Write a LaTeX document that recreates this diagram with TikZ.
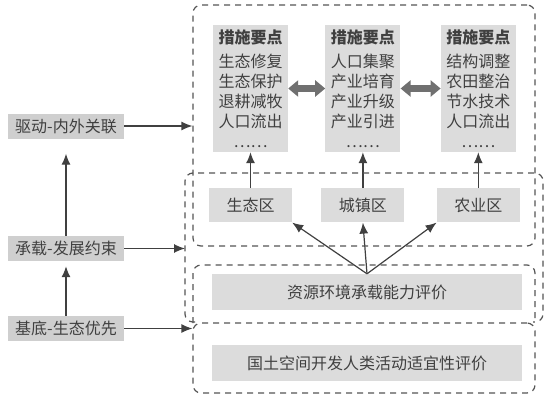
\documentclass[tikz,border=0pt]{standalone}
\usepackage{fontspec}
\setmainfont{Noto Sans CJK SC}
\usetikzlibrary{arrows.meta, positioning}
\definecolor{ink}{HTML}{404040}
\definecolor{mesh}{HTML}{DCDCDC}
\definecolor{meshdark}{HTML}{CFCFCF}
\definecolor{dashgray}{HTML}{555555}

\begin{document}
\begin{tikzpicture}[
        x=1pt, y=-1pt,
        node distance=36pt and 37pt,
        every node/.style={font=\fontsize{16}{20}\selectfont, text=ink, inner sep=2pt},
        cell/.style={fill=mesh, minimum width=75pt, minimum height=127pt, align=center},
        zone/.style={fill=mesh, minimum width=83pt, minimum height=34pt},
        evalbar/.style={fill=mesh, minimum width=310pt, minimum height=36pt},
        tag/.style={fill=meshdark, minimum width=116pt, minimum height=25pt, inner sep=1pt},
        frame/.style={draw=dashgray, line width=1.2pt, dash pattern=on 6pt off 5pt, rounded corners=8pt},
        arrowstyle/.style={-{Latex[length=11pt,width=9pt]}, line width=1.2pt, ink},
        twoway/.style={{Triangle[length=10pt,width=16pt]}-{Triangle[length=10pt,width=16pt]}, line width=7pt, ink!75}
    ]
    \useasboundingbox (0,0) rectangle (554,404);

    % measures
    \node[cell] (m1) at (250.5,88.5) {{\bfseries 措施要点}\\[4pt]生态修复\\生态保护\\退耕减牧\\人口流出\\……};
    \node[cell, right=of m1] (m2) {{\bfseries 措施要点}\\[4pt]人口集聚\\产业培育\\产业升级\\产业引进\\……};
    \node[cell, right=40pt of m2] (m3) {{\bfseries 措施要点}\\[4pt]结构调整\\农田整治\\节水技术\\人口流出\\……};
    \draw[twoway] (m1) -- (m2);
    \draw[twoway] (m2) -- (m3);

    % zones
    \node[zone, below=of m1] (z1) {生态区};
    \node[zone, below=of m2] (z2) {城镇区};
    \node[zone, below=of m3] (z3) {农业区};
    \draw[arrowstyle] (z1) -- (m1);
    \draw[arrowstyle] (z2) -- (m2);
    \draw[arrowstyle] (z3) -- (m3);

    % evaluations
    \node[evalbar] (res) at (367,292) {资源环境承载能力评价};
    \node[evalbar, below=35pt of res] (suit) {国土空间开发人类活动适宜性评价};
    \draw[arrowstyle] (res.north) -- (z1.south east);
    \draw[arrowstyle] (res.north) -- (z2.south);
    \draw[arrowstyle] (res.north) -- (z3.south west);

    % dashed frames
    \node[frame, minimum width=342pt, minimum height=241pt] (outerA) at (364,125.5) {};
    \node[frame, minimum width=342pt, minimum height=70pt] (outerC) at (364,358) {};
    \draw[frame] (195,322) -- (185,322) -- (185,173) -- (543,173) -- (543,322) -- (533,322);
    \draw[frame] (193,323) -- (193,265) -- (535,265) -- (535,323);
    \coordinate (bLeft) at (185,248);

    % left chain
    \node[tag] (drive) at (66,126) {驱动-内外关联};
    \node[tag] (bear) at (66,248.5) {承载-发展约束};
    \node[tag] (base) at (66,328.5) {基底-生态优先};
    \draw[arrowstyle] (drive) -- (drive -| outerA.west);
    \draw[arrowstyle] (bear) -- (bear -| bLeft);
    \draw[arrowstyle] (base) -- (base -| outerC.west);
    \draw[arrowstyle, shorten >=15pt] (bear) -- (drive);
    \draw[arrowstyle, shorten >=5pt] (base) -- (bear);
\end{tikzpicture}
\end{document}
